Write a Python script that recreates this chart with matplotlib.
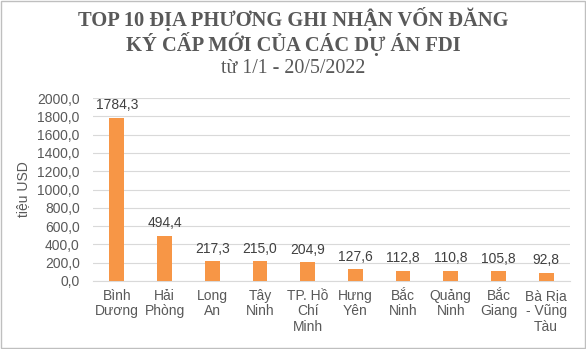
import matplotlib.pyplot as plt
import numpy as np

# ── DATA ──────────────────────────────────────────────────────────────────────

provinces = ["Bình\nDương", "Hải\nPhòng", "Long\nAn", "Tây\nNinh", "TP. Hồ\nChí\nMinh",
             "Hưng\nYên", "Bắc\nNinh", "Quảng\nNinh", "Bắc\nGiang", "Bà Rịa\n- Vũng\nTàu"]
capital = [1784.3, 494.4, 217.3, 215.0, 204.9, 127.6, 112.8, 110.8, 105.8, 92.8]
y_ticks = [0, 200, 400, 600, 800, 1000, 1200, 1400, 1600, 1800, 2000]

BAR_COLOUR = "#F79646"
TEXT_COLOUR = "#595959"
W, H = 586, 349

plt.rcParams["font.family"] = ["Liberation Sans", "DejaVu Sans"]

fig = plt.figure(figsize=(W / 100, H / 100), dpi=100)
ax = fig.add_axes([93 / W, 1 - 281 / H, 477 / W, 183 / H])

x = np.arange(len(provinces))
ax.bar(x, capital, width=0.31, color=BAR_COLOUR, zorder=3)

# value labels above each bar
for xi, v in zip(x, capital):
    ax.annotate(f"{v:.1f}".replace(".", ","), (xi, v), xytext=(0, 4),
                textcoords="offset points", ha="center", va="bottom",
                fontsize=10, color="#404040")

ax.set_xlim(-0.5, len(provinces) - 0.5)
ax.set_ylim(0, 2000)
ax.set_yticks(y_ticks)
ax.set_yticklabels([f"{t:.1f}".replace(".", ",") for t in y_ticks], fontsize=10, color=TEXT_COLOUR)
ax.set_xticks(x)
ax.set_xticklabels(provinces, fontsize=10, color=TEXT_COLOUR, linespacing=1.1)
ax.tick_params(axis="y", length=0, pad=9.5)
ax.tick_params(axis="x", length=0, pad=6)
ax.set_ylabel("tiệu USD", fontsize=10, color=TEXT_COLOUR, labelpad=5)

ax.yaxis.grid(True, color="#D9D9D9", linewidth=0.8)
ax.set_axisbelow(True)
for s in ["top", "right", "left"]:
    ax.spines[s].set_visible(False)
ax.spines["bottom"].set_color("#D9D9D9")

# titles (Times-like serif)
serif = ["Liberation Serif", "DejaVu Serif"]
fig.text(0.5, 1 - 26 / H, "TOP 10 ĐỊA PHƯƠNG GHI NHẬN VỐN ĐĂNG", ha="center", va="baseline",
         fontsize=14.8, fontweight="bold", color=TEXT_COLOUR, family=serif)
fig.text(0.5, 1 - 51 / H, "KÝ CẤP MỚI CỦA CÁC DỰ ÁN FDI", ha="center", va="baseline",
         fontsize=14.8, fontweight="bold", color=TEXT_COLOUR, family=serif)
fig.text(0.5, 1 - 73 / H, "từ 1/1 - 20/5/2022", ha="center", va="baseline",
         fontsize=14.4, color=TEXT_COLOUR, family=serif)

# thin chart border
fig.patches.append(plt.Rectangle((0.001, 0.002), 0.997, 0.996, transform=fig.transFigure,
                                 fill=False, edgecolor="#BFBFBF", linewidth=1))

fig.savefig("out.png", dpi=100)
